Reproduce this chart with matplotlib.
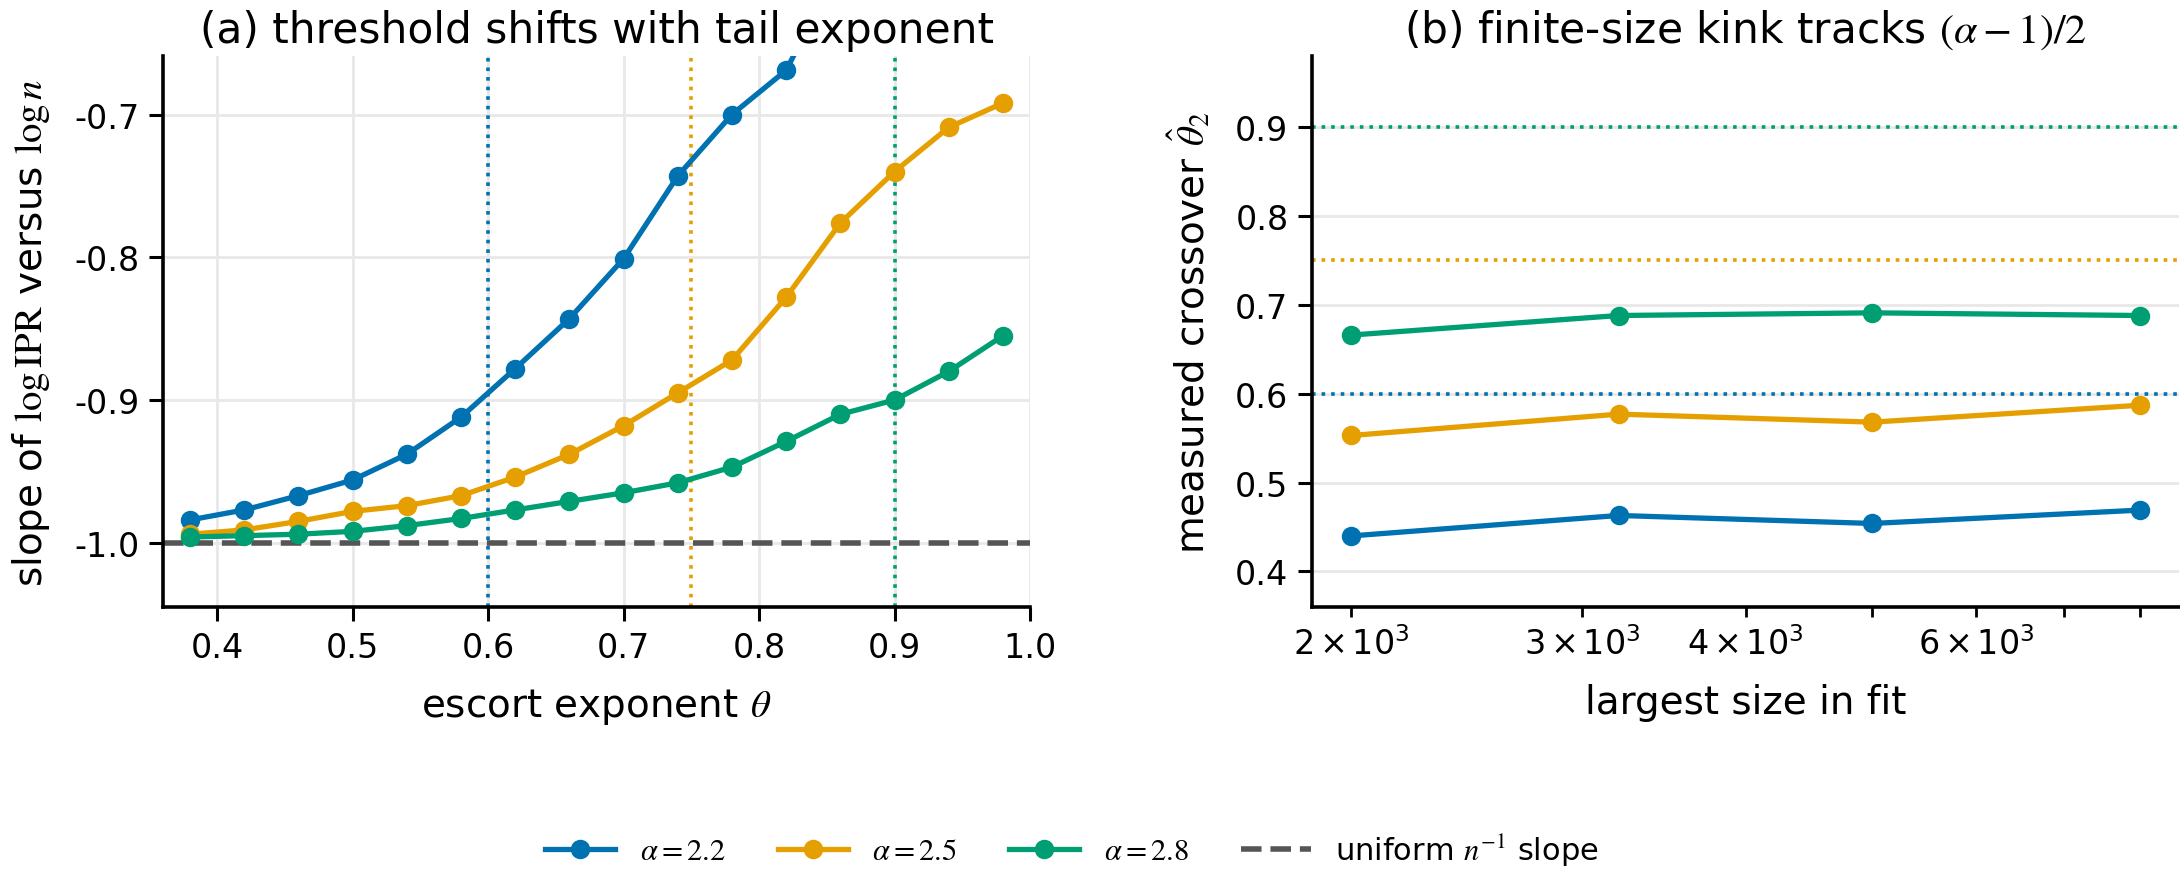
import matplotlib
matplotlib.use("Agg")
import matplotlib.pyplot as plt
import numpy as np

plt.rcParams['font.family'] = ['DejaVu Sans']
plt.rcParams['mathtext.fontset'] = 'stix'
plt.rcParams['axes.unicode_minus'] = False

# ---- data ----
theta = [0.38, 0.42, 0.46, 0.50, 0.54, 0.58, 0.62, 0.66, 0.70, 0.74, 0.78, 0.82, 0.86, 0.90, 0.94, 0.98]
slope_a22 = [-0.984, -0.977, -0.967, -0.956, -0.938, -0.912, -0.878, -0.843, -0.801, -0.743, -0.700, -0.669,
             -0.595, -0.530, -0.470, -0.420]
slope_a25 = [-0.994, -0.991, -0.985, -0.978, -0.974, -0.967, -0.954, -0.938, -0.918, -0.895, -0.872, -0.828,
             -0.776, -0.740, -0.709, -0.692]
slope_a28 = [-0.996, -0.995, -0.994, -0.992, -0.988, -0.983, -0.977, -0.971, -0.965, -0.958, -0.947, -0.929,
             -0.910, -0.900, -0.880, -0.855]
alphas = [2.2, 2.5, 2.8]
thresholds = [0.6, 0.75, 0.9]
labels = [r'$\alpha=2.2$', r'$\alpha=2.5$', r'$\alpha=2.8$']
colors = ['#0072B2', '#E69F00', '#009E73']

sizes = [2000, 3200, 5000, 8000]
cross_a22 = [0.440, 0.463, 0.454, 0.469]
cross_a25 = [0.553, 0.577, 0.568, 0.587]
cross_a28 = [0.666, 0.688, 0.691, 0.688]

W, H = 2180, 870
dpi = 200
fig = plt.figure(figsize=(W / dpi, H / dpi), dpi=dpi)
ax1 = fig.add_axes([163 / W, 1 - 608 / H, 867 / W, 551 / H])
ax2 = fig.add_axes([1312 / W, 1 - 608 / H, 867 / W, 551 / H])

lw = 1.9
ms = 6

for ax in (ax1, ax2):
    ax.grid(True, color='#e8e8e8', linewidth=1.0, zorder=0)
    ax.set_axisbelow(True)
    for s in ('top', 'right'):
        ax.spines[s].set_visible(False)
    for s in ('left', 'bottom'):
        ax.spines[s].set_linewidth(1.3)
    ax.tick_params(axis='both', which='major', labelsize=12, length=5, width=1.1)
    ax.tick_params(axis='both', which='minor', labelsize=12, length=3.5, width=1.0)

# panel (a)
series_a = [slope_a22, slope_a25, slope_a28]
handles = []
for ys, c, lab, th in zip(series_a, colors, labels, thresholds):
    h, = ax1.plot(theta, ys, '-o', color=c, lw=lw, ms=ms, label=lab, zorder=3)
    handles.append(h)
    ax1.axvline(th, color=c, ls=':', lw=1.3, zorder=2)
hd = ax1.axhline(-1.0, color='#555555', ls='--', lw=2.0, label=r'uniform $n^{-1}$ slope', zorder=2)
handles.append(hd)
ax1.set_xlim(0.36, 1.0)
ax1.set_ylim(-1.045, -0.659)
ax1.set_xticks([0.4, 0.5, 0.6, 0.7, 0.8, 0.9, 1.0])
ax1.set_yticks([-1.0, -0.9, -0.8, -0.7])
ax1.set_xlabel(r'escort exponent $\theta$', fontsize=14, labelpad=8)
ax1.set_ylabel(r'slope of $\log\mathrm{IPR}$ versus $\log n$', fontsize=14, labelpad=8)
ax1.set_title('(a) threshold shifts with tail exponent', fontsize=15.2, pad=5)

# panel (b)
series_b = [cross_a22, cross_a25, cross_a28]
for ys, c, th in zip(series_b, colors, thresholds):
    ax2.plot(sizes, ys, '-o', color=c, lw=lw, ms=ms, zorder=3)
    ax2.axhline(th, color=c, ls=':', lw=1.3, zorder=2)
ax2.set_xscale('log')
ax2.set_ylim(0.36, 0.98)
ax2.set_yticks([0.4, 0.5, 0.6, 0.7, 0.8, 0.9])
ax2.set_xlabel('largest size in fit', fontsize=14, labelpad=8)
ax2.set_ylabel(r'measured crossover $\hat{\theta}_2$', fontsize=14, labelpad=8)
ax2.set_title(r'(b) finite-size kink tracks $(\alpha-1)/2$', fontsize=15.2, pad=5)

fig.legend(handles=handles, labels=[h.get_label() for h in handles], loc='lower center',
           ncol=4, frameon=False, fontsize=11, bbox_to_anchor=(1072 / W, -0.03),
           columnspacing=1.7, handlelength=2.3, handletextpad=0.8)

fig.savefig('out.png', dpi=dpi)
